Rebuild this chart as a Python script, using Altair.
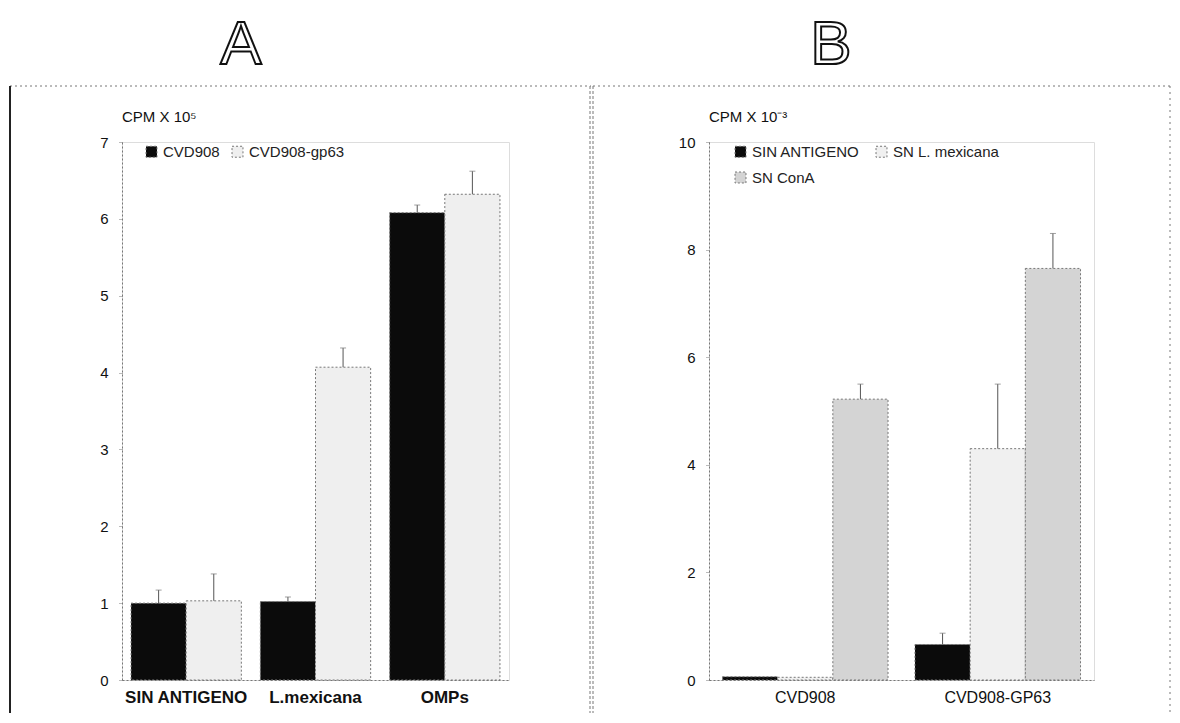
import altair as alt
import pandas as pd

FONT = "Liberation Sans Narrow, Arial Narrow, Liberation Sans, Arial, sans-serif"

# ---------------- Panel A data ----------------
cats_a = ["SIN ANTIGENO", "L.mexicana", "OMPs"]
series_a = ["CVD908", "CVD908-gp63"]
vals_a_cvd908 = [1.00, 1.02, 6.08]
vals_a_gp63 = [1.03, 4.07, 6.32]
err_a_cvd908 = [1.17, 1.08, 6.18]
err_a_gp63 = [1.38, 4.32, 6.62]
ticks_a = [0, 1, 2, 3, 4, 5, 6, 7]

# ---------------- Panel B data ----------------
cats_b = ["CVD908", "CVD908-GP63"]
series_b = ["SIN ANTIGENO", "SN L. mexicana", "SN ConA"]
vals_b_sin = [0.06, 0.66]
vals_b_mex = [0.05, 4.30]
vals_b_cona = [5.22, 7.65]
err_b_sin = [None, 0.87]
err_b_mex = [None, 5.50]
err_b_cona = [5.50, 8.30]
ticks_b = [0, 2, 4, 6, 8, 10]

rows_a = []
for s, vals, errs in [(series_a[0], vals_a_cvd908, err_a_cvd908),
                      (series_a[1], vals_a_gp63, err_a_gp63)]:
    for c, v, e in zip(cats_a, vals, errs):
        rows_a.append({"cat": c, "serie": s, "val": v, "err": e})
df_a = pd.DataFrame(rows_a)

rows_b = []
for s, vals, errs in [(series_b[0], vals_b_sin, err_b_sin),
                      (series_b[1], vals_b_mex, err_b_mex),
                      (series_b[2], vals_b_cona, err_b_cona)]:
    for c, v, e in zip(cats_b, vals, errs):
        rows_b.append({"cat": c, "serie": s, "val": v, "err": e})
df_b = pd.DataFrame(rows_b)

one = pd.DataFrame({"k": [0]})

H = 538
WA = 387
WB = 385


def frame_rule(x1, y1, x2, y2, color="#777", width=1, dash=None, opacity=1):
    kw = dict(color=color, strokeWidth=width, opacity=opacity)
    if dash:
        kw["strokeDash"] = dash
    return alt.Chart(one).mark_rule(**kw).encode(
        x=alt.value(x1), y=alt.value(y1), x2=alt.value(x2), y2=alt.value(y2))


def label(text, x, y, size, align="left", weight="normal", font=FONT,
          fill="#111", stroke=None, sw=0):
    kw = dict(text=text, fontSize=size, align=align, baseline="alphabetic",
              font=font, fontWeight=weight, color=fill)
    if stroke:
        kw["stroke"] = stroke
        kw["strokeWidth"] = sw
    return alt.Chart(one).mark_text(**kw).encode(x=alt.value(x), y=alt.value(y))


def yaxis(values, fs):
    return alt.Axis(values=values, format="d", title=None, grid=False,
                    domainDash=[2, 2], domainColor="#777", tickColor="#777",
                    tickSize=4, tickDash=[1, 1], labelFontSize=fs,
                    labelPadding=10, labelColor="#111", labelFont=FONT)


def xaxis(fs, weight):
    return alt.Axis(title=None, labelAngle=0, ticks=False, domainDash=[2, 2],
                    domainColor="#777", labelFontSize=fs, labelFontWeight=weight,
                    labelPadding=9, labelColor="#111", labelFont=FONT)


def legend(x, y, cols, colpad):
    return alt.Legend(orient="none", legendX=x, legendY=y,
                      direction="horizontal", columns=cols, title=None,
                      symbolType="square", symbolSize=120,
                      symbolStrokeColor="#777", symbolStrokeWidth=1,
                      symbolDash=[2, 2], labelFontSize=15, labelFont=FONT,
                      labelColor="#222", columnPadding=colpad, rowPadding=10,
                      symbolOpacity=1)


# ---------------- Panel A chart ----------------
xA = alt.X("cat:N", sort=cats_a,
           scale=alt.Scale(type="band", paddingInner=0.147, paddingOuter=0.07),
           axis=xaxis(17, "bold"))
xoA = alt.XOffset("serie:N", sort=series_a,
                  scale=alt.Scale(type="band", domain=series_a,
                                  paddingInner=0, paddingOuter=0))
yA = alt.Y("val:Q", scale=alt.Scale(domain=[0, 7], nice=False, zero=True),
           axis=yaxis(ticks_a, 15))
cA = alt.Color("serie:N", sort=series_a,
               scale=alt.Scale(domain=series_a, range=["#0b0b0b", "#efefef"]),
               legend=legend(22, 2, 2, 10))

barsA = alt.Chart(df_a).mark_bar(stroke="#777", strokeDash=[2, 2],
                                 strokeWidth=1, opacity=1).encode(
    x=xA, xOffset=xoA, y=yA, color=cA)
errA = alt.Chart(df_a).mark_rule(color="#555", strokeWidth=1).encode(
    x=xA, xOffset=xoA, y="val:Q", y2="err:Q")
capA = alt.Chart(df_a).mark_tick(color="#777", size=6, thickness=1).encode(
    x=xA, xOffset=xoA, y="err:Q")

panelA = alt.layer(
    frame_rule(-112, -133, -111, -133, opacity=0),       # bounds anchor
    frame_rule(-112, -56, 469, -56, dash=[2, 3]),          # top border
    frame_rule(-112, -56, -112, 571, color="#222", width=2),  # left border
    frame_rule(468, -56, 468, 571, dash=[3, 2]),           # divider
    barsA, errA, capA,
    label("CPM X 10\u2075", 0, -20, 15),
    label("A", 119, -78, 62, align="center", fill="white", stroke="#111", sw=2),
).properties(width=WA, height=H)

# ---------------- Panel B chart ----------------
xB = alt.X("cat:N", sort=cats_b,
           scale=alt.Scale(type="band", paddingInner=0.14, paddingOuter=0.07),
           axis=xaxis(16, "normal"))
xoB = alt.XOffset("serie:N", sort=series_b,
                  scale=alt.Scale(type="band", domain=series_b,
                                  paddingInner=0, paddingOuter=0))
yB = alt.Y("val:Q", scale=alt.Scale(domain=[0, 10], nice=False, zero=True),
           axis=yaxis(ticks_b, 15))
cB = alt.Color("serie:N", sort=series_b,
               scale=alt.Scale(domain=series_b,
                               range=["#0b0b0b", "#f0f0f0", "#d4d4d4"]),
               legend=legend(24, 2, 2, 14))

barsB = alt.Chart(df_b).mark_bar(stroke="#777", strokeDash=[2, 2],
                                 strokeWidth=1, opacity=1).encode(
    x=xB, xOffset=xoB, y=yB, color=cB)
errB = alt.Chart(df_b).transform_filter("datum.err != null").mark_rule(
    color="#555", strokeWidth=1).encode(x=xB, xOffset=xoB, y="val:Q", y2="err:Q")
capB = alt.Chart(df_b).transform_filter("datum.err != null").mark_tick(
    color="#777", size=6, thickness=1).encode(x=xB, xOffset=xoB, y="err:Q")

panelB = alt.layer(
    frame_rule(-116, -56, 461, -56, dash=[2, 3]),   # top border
    frame_rule(-116, -56, -116, 571, dash=[3, 2]),  # divider second line
    frame_rule(461, -56, 461, 571, dash=[2, 4]),    # right border
    barsB, errB, capB,
    label("CPM X 10\u207b\u00b3", 0, -20, 15),
    label("B", 122, -78, 62, align="center", fill="white", stroke="#111", sw=2),
).properties(width=WB, height=H)

chart = alt.hconcat(panelA, panelB, spacing=200, bounds="flush").resolve_scale(
    color="independent", x="independent", y="independent",
    xOffset="independent"
).properties(padding=0).configure_view(stroke=None).configure(
    font=FONT, background="white")

chart.save("out.html", embed_options={"renderer": "svg", "actions": False})
